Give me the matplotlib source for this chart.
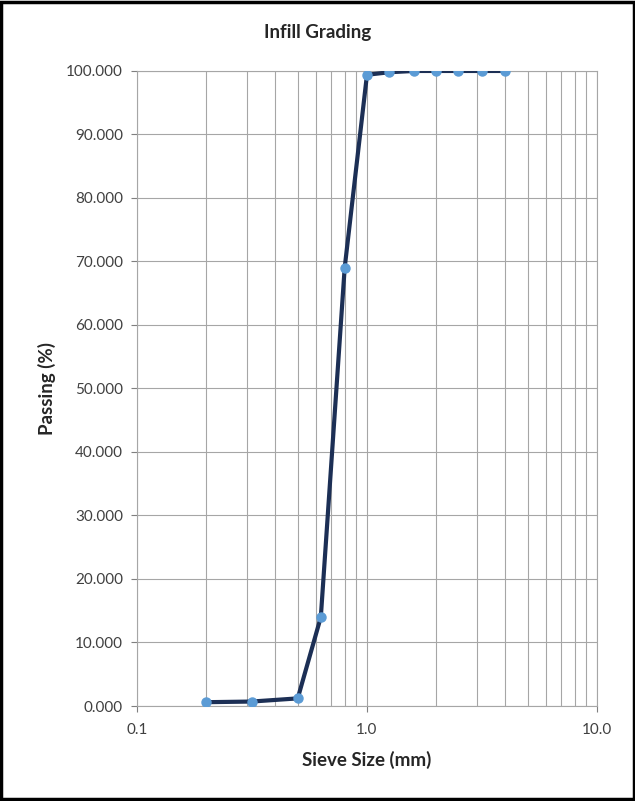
import matplotlib
matplotlib.use("Agg")
import matplotlib.pyplot as plt
from matplotlib.ticker import FixedLocator, FuncFormatter, NullFormatter

plt.rcParams["font.family"] = ["Lato", "DejaVu Sans"]

# Sieve sizes (mm) and percent passing
sieve_mm = [0.2, 0.315, 0.5, 0.63, 0.8, 1.0, 1.25, 1.6, 2.0, 2.5, 3.15, 4.0]
passing = [0.6, 0.7, 1.2, 14.0, 69.0, 99.4, 99.8, 100.0, 100.0, 100.0, 100.0, 100.0]

y_ticks = [0, 10, 20, 30, 40, 50, 60, 70, 80, 90, 100]
x_major = [0.1, 1.0, 10.0]

GRID = "#a6a6a6"

fig = plt.figure(figsize=(6.35, 8.01), dpi=100)
ax = fig.add_axes([0.2157, 0.1186, 0.7244, 0.7928])

ax.set_xscale("log")
ax.set_xlim(0.1, 10)
ax.set_ylim(0, 100)

ax.plot(sieve_mm, passing, color="#1c2f55", lw=3, zorder=3,
        marker="o", ms=6.5, mfc="#5b9bd5", mec="#5b9bd5", solid_capstyle="round")

ax.xaxis.set_major_locator(FixedLocator(x_major))
minors = [m * d for d in (0.1, 1.0) for m in range(2, 10)]
ax.xaxis.set_minor_locator(FixedLocator(minors))
ax.xaxis.set_major_formatter(FuncFormatter(lambda v, p: f"{v:.1f}"))
ax.xaxis.set_minor_formatter(NullFormatter())
ax.set_yticks(y_ticks)
ax.yaxis.set_major_formatter(FuncFormatter(lambda v, p: f"{v:.3f}"))

ax.grid(True, which="both", axis="x", color=GRID, lw=0.8)
ax.grid(True, which="major", axis="y", color=GRID, lw=0.8)
ax.set_axisbelow(True)

for s in ax.spines.values():
    s.set_color(GRID)
    s.set_linewidth(0.8)

ax.tick_params(axis="both", which="major", length=4, width=0.8, color="#7f7f7f",
               labelsize=11, labelcolor="#404040")
ax.tick_params(axis="y", which="major", pad=6)
ax.tick_params(axis="x", which="minor", length=0)
ax.tick_params(axis="x", which="major", pad=8)

ax.set_xlabel("Sieve Size (mm)", fontsize=13.5, fontweight="bold", color="#262626", labelpad=10)
ax.set_ylabel("Passing (%)", fontsize=13.5, fontweight="bold", color="#262626", labelpad=7)
fig.text(0.5, 0.959, "Infill Grading", ha="center", va="center",
         fontsize=13.5, fontweight="bold", color="#262626")

# outer chart border
fig.patches.append(plt.Rectangle((0.002, 0.002), 0.996, 0.996, transform=fig.transFigure,
                                 fill=False, edgecolor="black", lw=2.5))

fig.savefig("out.png", dpi=100)
